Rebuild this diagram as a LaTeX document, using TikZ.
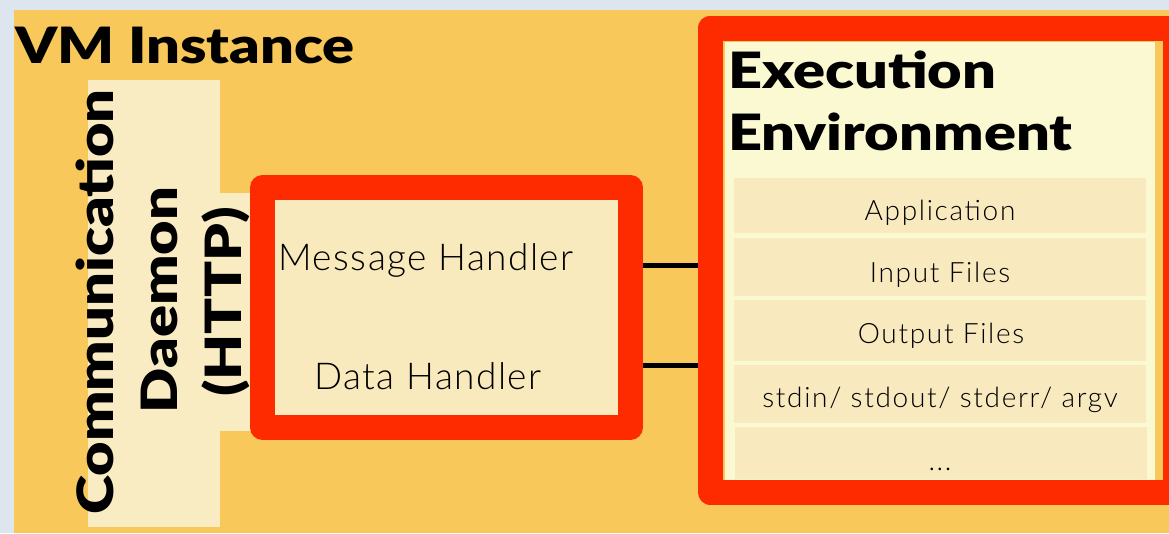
\documentclass[tikz,border=0pt]{standalone}
\usepackage{fontspec}
\setmainfont{Lato}
\newfontfamily\heavyfont{Lato Black}[FakeStretch=1.19]
\newfontfamily\sidefont{Lato Black}[FakeStretch=1.19]
\newfontfamily\handlerfont{Lato Light}[LetterSpace=4]
\newfontfamily\itemfont{Lato Light}[LetterSpace=6]
\definecolor{bgblue}{HTML}{DDE6EE}
\definecolor{panel}{HTML}{F9C85A}
\definecolor{frame}{HTML}{FF2B00}
\definecolor{daemon}{HTML}{F9EBC2}
\definecolor{handlerfill}{HTML}{F9EABD}
\definecolor{envfill}{HTML}{FBF9D2}
\definecolor{rowfill}{HTML}{F8E9BE}
\tikzset{
  heading/.style={font=\heavyfont\fontsize{50}{50}\selectfont, inner sep=0pt, outer sep=0pt},
  vlabel/.style={font=\sidefont\fontsize{50}{50}\selectfont, inner sep=0pt, outer sep=0pt, rotate=90, anchor=base},
  handler/.style={font=\handlerfont\fontsize{37}{37}\selectfont, inner sep=0pt, anchor=base},
  item/.style={font=\itemfont\fontsize{28}{28}\selectfont, inner sep=0pt, anchor=base},
  redframe/.style={draw=frame, line width=25pt, line join=round, inner sep=0pt, outer sep=12.5pt},
  rowbox/.style={fill=rowfill, inner sep=0pt, outer sep=0pt, minimum width=412pt},
  conn/.style={line width=5pt, black}
}
\begin{document}
\begin{tikzpicture}[x=1pt,y=-1pt]
\useasboundingbox (0,0) rectangle (1169,533);
% backdrop and the VM panel
\fill[bgblue] (0,0) rectangle (1169,533);
\fill[panel] (14,10) rectangle (1169,533);
\node[heading, anchor=base west] (vm) at (15,63) {VM Instance};

% communication daemon strip
\fill[daemon] (88,80) rectangle (220,527);
\fill[daemon] (215,193) rectangle (252,431);
\node[vlabel] (comm) at (113,302) {Communication};
\node[vlabel] (daem) at (177,300) {Daemon};
\node[vlabel] (http) at (241,302) {(HTTP)};

% handler box
\node[redframe, fill=handlerfill, minimum width=368pt, minimum height=240pt] (msg) at (446.5,307.5) {};
\node[handler] (mh) at (426,270) {Message Handler};
\node[handler] (dh) at (428,389) {Data Handler};

% connectors into the execution environment
\coordinate (e1) at (727,265.5);
\coordinate (e2) at (727,365.5);
\draw[conn] (msg.east |- e1) -- (e1);
\draw[conn] (msg.east |- e2) -- (e2);

% execution environment
\node[redframe, fill=panel, minimum width=465pt, minimum height=464pt] (exec) at (942.5,260) {};
\fill[envfill] (725,42) rectangle (1155,480);
\node[heading, anchor=base west] (ex1) at (728,88) {Execution};
\node[heading, anchor=base west] (ex2) at (728,150) {Environment};

\node[rowbox, minimum height=55pt] (r1) at (940,205.5) {};
\node[rowbox, minimum height=58pt] (r2) at (940,267) {};
\node[rowbox, minimum height=61pt] (r3) at (940,330.5) {};
\node[rowbox, minimum height=58pt] (r4) at (940,394) {};
\node[rowbox, minimum height=52pt] (r5) at (941,453) {};

\node[item] (t1) at (940,220) {Application};
\node[item] (t2) at (940,282) {Input Files};
\node[item] (t3) at (941,343) {Output Files};
\node[item] (t4) at (940,407) {stdin/ stdout/ stderr/ argv};
\node[item] (t5) at (940,470) {...};
\end{tikzpicture}
\end{document}
